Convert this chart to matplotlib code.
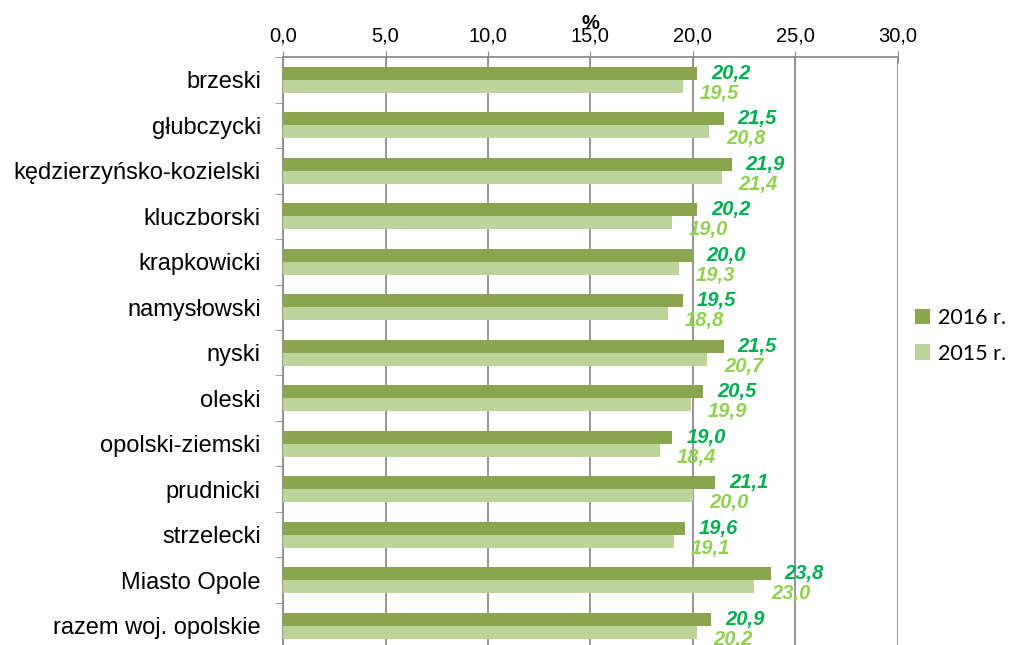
import matplotlib
matplotlib.use("Agg")
import matplotlib.pyplot as plt
import matplotlib.transforms as mtransforms
import numpy as np

# Data
categories = ["brzeski", "głubczycki", "kędzierzyńsko-kozielski", "kluczborski",
              "krapkowicki", "namysłowski", "nyski", "oleski", "opolski-ziemski",
              "prudnicki", "strzelecki", "Miasto Opole", "razem woj. opolskie"]
values_2016 = [20.2, 21.5, 21.9, 20.2, 20.0, 19.5, 21.5, 20.5, 19.0, 21.1, 19.6, 23.8, 20.9]
values_2015 = [19.5, 20.8, 21.4, 19.0, 19.3, 18.8, 20.7, 19.9, 18.4, 20.0, 19.1, 23.0, 20.2]
series_names = ["2016 r.", "2015 r."]
x_ticks = [0, 5, 10, 15, 20, 25, 30]

plt.rcParams['font.family'] = ['Liberation Sans', 'DejaVu Sans']

dark = '#8BA54F'
light = '#BCD39A'
lbl_dark = '#00B050'
lbl_light = '#92D050'
grid_col = '#8C8C8C'

fig = plt.figure(figsize=(10.11, 6.45), dpi=100)
ax = fig.add_axes([0.280, -0.0054, 0.608, 0.917])

y = np.arange(len(categories))
h = 0.285
ax.barh(y - h / 2, values_2016, height=h, color=dark, label=series_names[0], zorder=3)
ax.barh(y + h / 2, values_2015, height=h, color=light, label=series_names[1], zorder=3)

# data labels, comma as decimal separator
for yi, v in zip(y, values_2016):
    ax.annotate(f"{v:.1f}".replace('.', ','), xy=(v, yi - h / 2), xytext=(10, 0),
                textcoords='offset points', ha='left', va='center',
                fontsize=14.5, fontweight='bold', fontstyle='italic', color=lbl_dark, zorder=4)
for yi, v in zip(y, values_2015):
    ax.annotate(f"{v:.1f}".replace('.', ','), xy=(v, yi + h / 2), xytext=(12, -5),
                textcoords='offset points', ha='left', va='center',
                fontsize=14.5, fontweight='bold', fontstyle='italic', color=lbl_light, zorder=4)

ax.set_xlim(0, 30)
ax.set_ylim(len(categories) - 0.5, -0.5)
ax.set_xticks(x_ticks)
ax.set_xticklabels([f"{t:.1f}".replace('.', ',') for t in x_ticks], fontsize=14.5)
ax.xaxis.tick_top()
ax.tick_params(axis='x', direction='inout', length=9, color=grid_col, pad=4)

ax.set_yticks(y)
ax.set_yticklabels(categories, fontsize=17)
ax.set_yticks(np.arange(len(categories) + 1) - 0.5, minor=True)
ax.tick_params(axis='y', which='major', length=0, pad=16)
ax.tick_params(axis='y', which='minor', length=6, color=grid_col)

ax.grid(axis='x', color=grid_col, linewidth=1.3, zorder=0)
for s in ['right', 'bottom']:
    ax.spines[s].set_visible(False)
for s in ['left', 'top']:
    ax.spines[s].set_color(grid_col)
    ax.spines[s].set_linewidth(1.3)

trans = mtransforms.blended_transform_factory(ax.transData, ax.transAxes)
ax.text(15, 1.047, "%", transform=trans, ha='center', va='baseline', fontsize=14.5,
        fontweight='bold')

ax.legend(loc='center left', bbox_to_anchor=(915 / 1011, 1 - 336 / 645),
          bbox_transform=fig.transFigure, borderaxespad=0, borderpad=0, frameon=False,
          prop={'family': 'Lato', 'size': 15.5}, handlelength=0.7, handleheight=0.7,
          handletextpad=0.35, labelspacing=0.7)

fig.savefig("out.png", dpi=100)
